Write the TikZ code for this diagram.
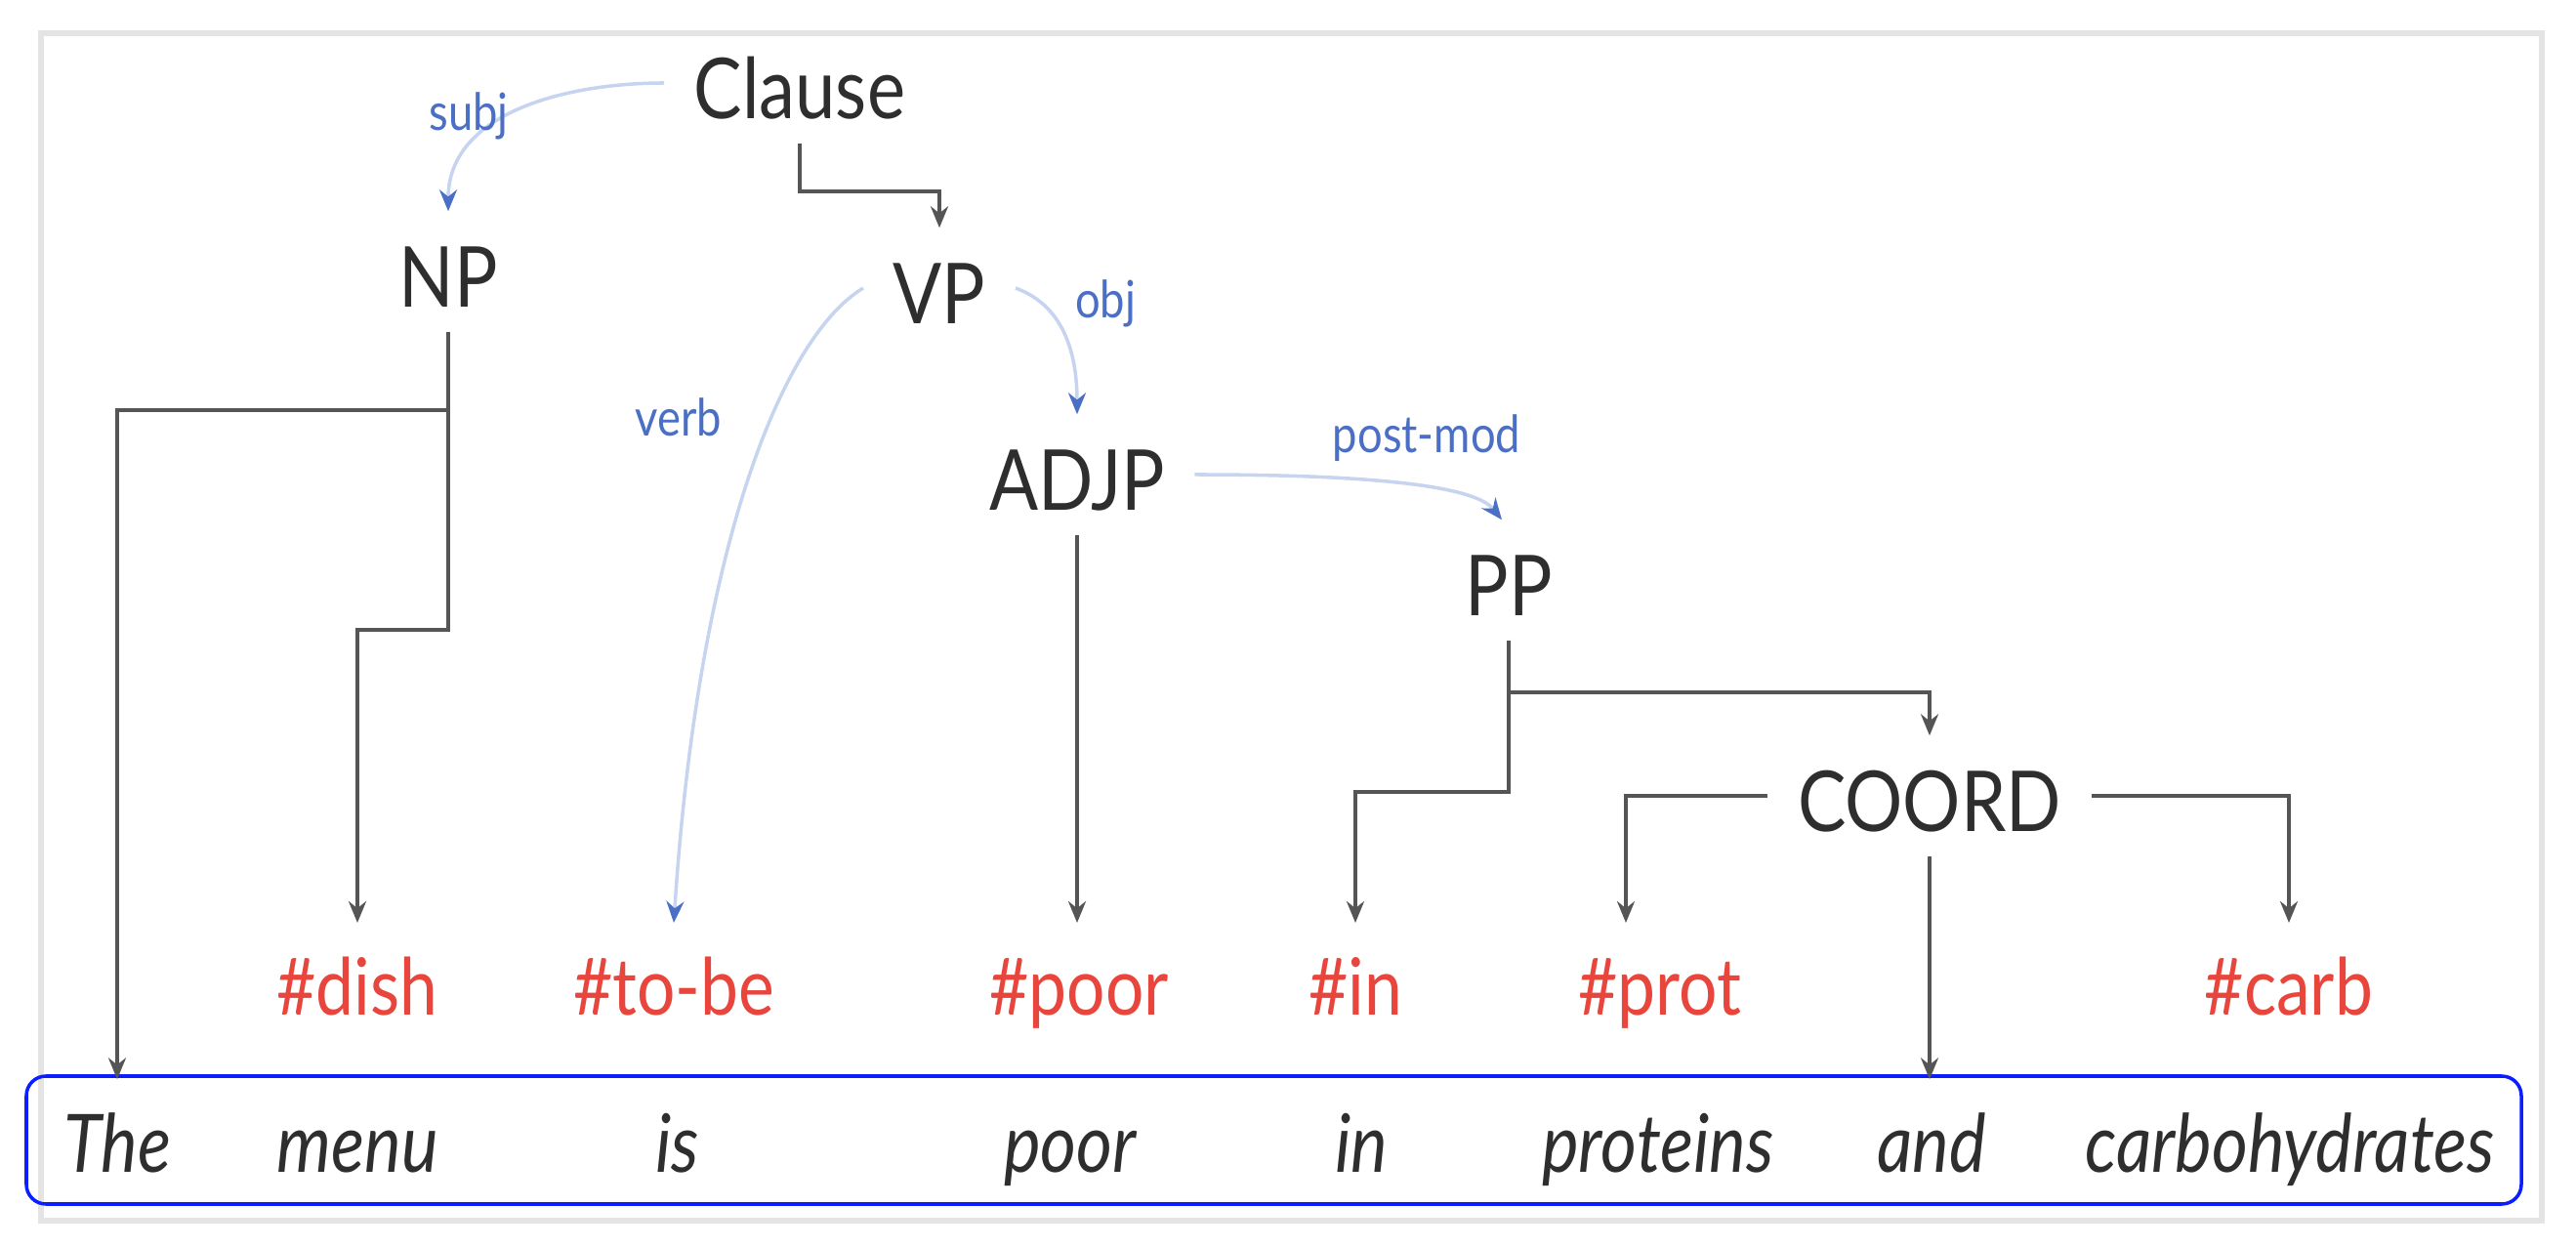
\documentclass[tikz,border=0pt]{standalone}
\usepackage{fontspec}
\setmainfont{Lato}[FakeStretch=0.86]
\usetikzlibrary{arrows.meta}
\definecolor{InkGrey}{HTML}{2E2E2E}
\definecolor{LineGrey}{HTML}{555555}
\definecolor{FrameGrey}{HTML}{E4E4E4}
\definecolor{TagRed}{HTML}{E8453C}
\definecolor{RelBlue}{HTML}{4A6FC4}
\definecolor{ArcBlue}{HTML}{C6D4F0}
\definecolor{BoxBlue}{HTML}{0A1EFF}

\begin{document}
\begin{tikzpicture}[>={Stealth[length=2.2mm,width=1.8mm]},
  phrase/.style={font=\fontsize{24.5}{28}\selectfont,text=InkGrey,text height=.74cm,text depth=0pt,inner xsep=.3cm,inner ysep=.24cm,anchor=base},
  word/.style={font=\fontsize{23.5}{28}\selectfont\itshape,text=InkGrey,text height=.6cm,text depth=.2cm,inner ysep=.34cm,anchor=base},
  tag/.style={font=\fontsize{23}{28}\selectfont,text=TagRed,text height=.58cm,text depth=0pt,inner ysep=.36cm,anchor=north},
  rel/.style={font=\fontsize{15}{18}\selectfont,text=RelBlue},
  tree/.style={draw=LineGrey,line width=1.1pt,->},
  arc/.style={draw=ArcBlue,line width=1pt,-{Stealth[length=2.2mm,width=1.8mm,color=RelBlue]}}]
\useasboundingbox (0,0) rectangle (26.38,-12.77);
\draw[FrameGrey,line width=1.5pt] (0.42,-0.34) rectangle (26.03,-12.50);
\draw[BoxBlue,line width=1pt,rounded corners=.2cm] (0.27,-11.02) rectangle (25.82,-12.33);

\node[phrase] (clause) at (8.19,-1.22) {Clause};
\node[phrase] (np) at (4.59,-3.15) {NP};
\node[phrase] (vp) at (9.62,-3.32) {VP};
\node[phrase] (adjp) at (11.03,-5.23) {ADJP};
\node[phrase] (pp) at (15.45,-6.31) {PP};
\node[phrase] (coord) at (19.76,-8.52) {COORD};

\node[tag] (tdish) at (3.66,-9.45) {\#dish};
\node[tag] (ttobe) at (6.90,-9.45) {\#to-be};
\node[tag] (tpoor) at (11.05,-9.45) {\#poor};
\node[tag] (tin) at (13.88,-9.45) {\#in};
\node[tag] (tprot) at (17.00,-9.45) {\#prot};
\node[tag] (tcarb) at (23.44,-9.45) {\#carb};

\node[word] (wthe) at (1.20,-12.0) {The};
\node[word] (wmenu) at (3.66,-12.0) {menu};
\node[word] (wis) at (6.94,-12.0) {is};
\node[word] (wpoor) at (10.96,-12.0) {poor};
\node[word] (win) at (13.94,-12.0) {in};
\node[word] (wprot) at (16.98,-12.0) {proteins};
\node[word] (wand) at (19.78,-12.0) {and};
\node[word] (wcarb) at (23.45,-12.0) {carbohydrates};

\draw[tree] (clause.south) -- ++(0,-.49) -| (vp.north);
\draw[tree] (np.south) -- ++(0,-.8) -| (wthe.north);
\draw[tree] (np.south) -- ++(0,-3.05) -| (tdish.north);
\draw[tree] (adjp.south) -- (adjp.south |- tpoor.north);
\draw[tree] (pp.south) -- ++(0,-1.55) -| (tin.north);
\draw[tree] (pp.south) -- ++(0,-.53) -| (coord.north);
\draw[tree] (coord.west) -| ([xshift=-.35cm]tprot.north);
\draw[tree] (coord.east) -| (tcarb.north);
\draw[tree] (coord.south) -- (coord.south |- wand.north);

\draw[arc] (clause.west) to[out=180,in=90] (np.north);
\draw[arc] (vp.west) .. controls +(-.83,-.5) and +(.25,3.85) .. (ttobe.north);
\draw[arc] (vp.east) to[out=-20,in=90] (adjp.north);
\draw[arc] (adjp.east) .. controls +(1.55,0) and +(-.3,.38) .. ([xshift=-.07cm]pp.north);
\node[rel] (lsubj) at (4.80,-1.19) {subj};
\node[rel] (lverb) at (6.95,-4.27) {verb};
\node[rel] (lobj) at (11.32,-3.11) {obj};
\node[rel] (lpost) at (14.61,-4.49) {post-mod};
\end{tikzpicture}
\end{document}
